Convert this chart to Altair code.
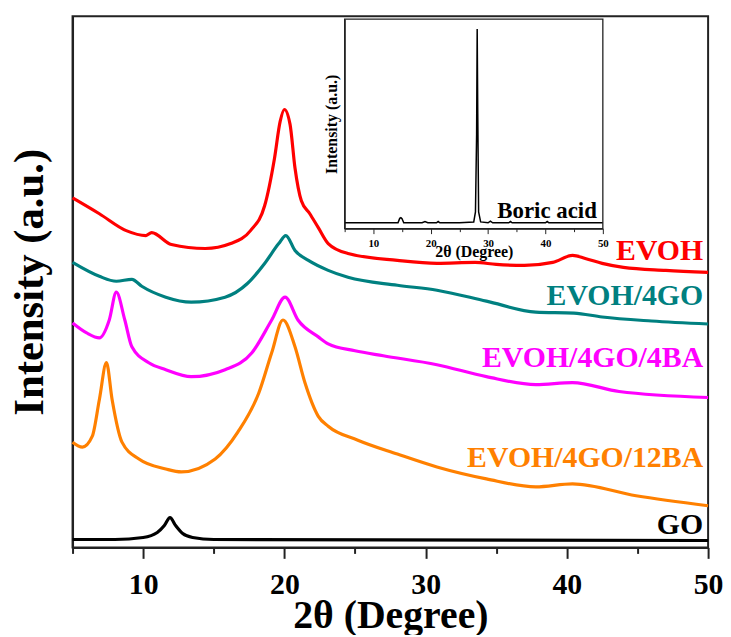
import altair as alt
import pandas as pd

# ---------------- main XRD patterns (2θ in degrees, intensity in a.u. with offsets) ----------------
deg_evoh = [5.0, 6.9, 8.8, 10.2, 10.6, 12.0, 14.4, 16.2, 17.6, 18.6, 19.3, 19.7, 20.0, 20.4, 20.75, 21.2,
            21.8, 22.4, 23.1, 24.5, 28.0, 30.8, 33.5, 35.0, 37.0, 39.0, 40.4, 41.3, 42.5, 44.0, 47.0, 50.0]
int_evoh = [352, 336, 319, 314, 317, 305, 301, 306, 319, 344, 392, 429, 441, 426, 382, 349,
            336, 322, 306, 296, 289, 286, 287, 285, 284, 287, 294, 291, 286, 282, 279, 277]

deg_4go = [5.0, 6.9, 8.1, 9.2, 9.9, 11.6, 13.4, 15.8, 17.4, 18.6, 19.6, 20.1, 20.75, 21.7, 23.1, 24.5,
           28.0, 30.8, 34.3, 37.8, 40.5, 42.5, 46.0, 50.0]
int_4go = [287, 273, 268, 270, 263, 252, 247, 252, 266, 286, 306, 314, 299, 289, 279, 272,
           264, 259, 248, 237, 236, 232, 228, 225]

deg_4ba = [5.0, 6.0, 6.9, 7.6, 8.1, 8.7, 9.2, 10.4, 11.6, 13.4, 15.8, 17.7, 19.1, 20.05, 20.96, 22.4,
           23.1, 25.0, 27.0, 30.8, 34.3, 37.8, 40.4, 43.7, 50.0]
int_4ba = [226, 216, 211, 229, 257, 229, 202, 186, 179, 172, 179, 196, 229, 252, 229, 212,
           205, 198, 193, 184, 172, 164, 166, 157, 151]

deg_12ba = [5.0, 5.7, 6.4, 6.9, 7.4, 7.8, 8.5, 9.7, 11.6, 12.7, 15.1, 16.7, 18.2, 19.1, 19.9, 20.75,
            21.45, 22.4, 23.1, 25.2, 28.0, 30.8, 34.3, 37.8, 40.4, 44.9, 50.0]
int_12ba = [106, 101, 112, 149, 186, 149, 106, 89, 79, 76, 89, 116, 156, 196, 229, 202,
            166, 132, 122, 108, 94, 81, 69, 61, 64, 52, 42]

deg_go = [5.0, 8.0, 10.0, 11.0, 11.5, 11.9, 12.3, 12.8, 13.5, 15.0, 50.0]
int_go = [8, 8, 10, 15, 22, 30, 22, 14, 10, 8, 7]

names = ["EVOH", "EVOH/4GO", "EVOH/4GO/4BA", "EVOH/4GO/12BA", "GO"]
colors = ["#ff0000", "#008080", "#ff00ff", "#ff8000", "#000000"]
label_y = [289, 244, 182, 81, 14]
label_x = [50, 50, 50, 50, 50]

x_domain = [5, 50]
y_domain = [0, 535]
x_ticks = [5, 10, 15, 20, 25, 30, 35, 40, 45, 50]

# ---------------- inset: boric acid ----------------
ba_deg = [5.0, 14.3, 14.6, 14.8, 15.0, 15.3, 18.5, 19.0, 19.5, 21.0, 21.3, 21.6, 25.0, 27.5, 27.8, 28.0,
          28.1, 28.2, 28.35, 28.7, 30.0, 30.4, 30.8, 33.6, 33.9, 34.2, 40.0, 40.3, 40.6, 50.0]
ba_int = [2.8, 2.8, 4.9, 5.2, 4.7, 2.8, 2.8, 3.4, 2.8, 2.8, 3.4, 2.8, 2.8, 3.2, 8.0, 45.0,
          95.3, 55.0, 8.0, 3.2, 2.8, 3.6, 2.8, 2.8, 3.4, 2.8, 2.8, 3.4, 2.8, 2.8]
ba_x_domain = [5, 50]
ba_y_domain = [0, 100]
ba_label = "Boric acid"
ba_label_y = 5.2

FONT = "Liberation Serif"

rows = []
for nm, xs, ys in zip(names, [deg_evoh, deg_4go, deg_4ba, deg_12ba, deg_go],
                      [int_evoh, int_4go, int_4ba, int_12ba, int_go]):
    for a, b in zip(xs, ys):
        rows.append({"sample": nm, "deg": a, "inten": b})
main_df = pd.DataFrame(rows)
lab_df = pd.DataFrame({"sample": names, "deg": label_x, "inten": label_y})
ba_df = pd.DataFrame({"bx": ba_deg, "by": ba_int})
frame_df = pd.DataFrame({"fx": [ba_x_domain[0]], "fx2": [ba_x_domain[1]],
                         "fy": [ba_y_domain[0]], "fy2": [ba_y_domain[1]]})
ba_lab_df = pd.DataFrame({"bx": [ba_x_domain[1]], "by": [ba_label_y], "t": [ba_label]})

color_enc = alt.Color("sample:N", scale=alt.Scale(domain=names, range=colors), legend=None)

x_main = alt.X(
    "deg:Q",
    scale=alt.Scale(domain=x_domain, nice=False, zero=False),
    axis=alt.Axis(
        title="2θ (Degree)", values=x_ticks,
        labelExpr="datum.value % 10 == 0 ? datum.label : ''",
        tickSize={"condition": {"test": "datum.value % 10 == 0", "value": 11}, "value": 6},
        tickWidth=2, domainWidth=2, labelFontSize=30, titleFontSize=40,
        labelPadding=11, titlePadding=-3, grid=False, labelFlush=False,
    ),
)
y_main = alt.Y(
    "inten:Q",
    scale=alt.Scale(domain=y_domain, nice=False, zero=False),
    axis=alt.Axis(title="Intensity (a.u.)", labels=False, ticks=False, grid=False,
                  domainWidth=2, titleFontSize=43, titlePadding=21),
)

lines = alt.Chart(main_df).mark_line(strokeWidth=3.2, interpolate="monotone").encode(
    x=x_main, y=y_main, color=color_enc, detail="sample:N"
)
labels = alt.Chart(lab_df).mark_text(
    align="right", baseline="alphabetic", dx=-5, font=FONT, fontWeight="bold", fontSize=30
).encode(x="deg:Q", y="inten:Q", text="sample:N", color=color_enc)

main = alt.layer(lines, labels)

x_ins = alt.X(
    "bx:Q",
    scale=alt.Scale(domain=ba_x_domain, range=[274, 534], nice=False, zero=False),
    axis=alt.Axis(
        orient="bottom", offset=-321, title="2θ (Degree)", values=x_ticks,
        labelExpr="datum.value % 10 == 0 ? datum.label : ''",
        tickSize={"condition": {"test": "datum.value % 10 == 0", "value": 5}, "value": 3},
        tickWidth=1, domainWidth=1.2, labelFontSize=11, titleFontSize=16,
        labelPadding=4, titlePadding=-5, grid=False, labelFlush=False,
    ),
)
y_ins = alt.Y(
    "by:Q",
    scale=alt.Scale(domain=ba_y_domain, range=[214, 3], nice=False, zero=False),
    axis=alt.Axis(orient="left", offset=-274, title="Intensity (a.u.)", labels=False,
                  ticks=False, grid=False, domainWidth=1.2, titleFontSize=16, titlePadding=5),
)

ba_line = alt.Chart(ba_df).mark_line(color="black", strokeWidth=1.5).encode(x=x_ins, y=y_ins)
ba_frame = alt.Chart(frame_df).mark_rect(fill="transparent", stroke="#222", strokeWidth=1.3).encode(
    x="fx:Q", x2="fx2:Q", y="fy:Q", y2="fy2:Q"
)
ba_text = alt.Chart(ba_lab_df).mark_text(
    align="right", baseline="alphabetic", dx=-6, font=FONT, fontWeight="bold", fontSize=23,
    color="black"
).encode(x="bx:Q", y="by:Q", text="t:N")

inset = alt.layer(ba_line, ba_frame, ba_text)

chart = (
    alt.layer(main, inset)
    .resolve_scale(x="independent", y="independent", color="independent")
    .properties(width=640, height=535, autosize="none",
                padding={"left": 65, "top": 6, "right": 15, "bottom": 86},
                background="white")
    .configure_view(stroke="#222", strokeWidth=2)
    .configure_axis(labelFont=FONT, titleFont=FONT, labelFontWeight="bold",
                    titleFontWeight="bold", domainColor="#222", tickColor="#222",
                    labelColor="black", titleColor="black")
)

chart.save("out.html", embed_options={"renderer": "svg", "actions": False})
